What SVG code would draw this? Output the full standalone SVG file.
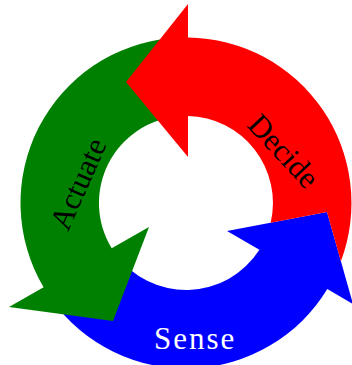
<svg xmlns="http://www.w3.org/2000/svg" width="352" height="365" viewBox="0 0 352 365">
  <style>
    .lbl { font-family: "Liberation Serif", "Times New Roman", serif; font-size: 31px; }
    .dark { fill: #000000; }
    .light { fill: #FFFFFF; }
  </style>
  <rect x="0" y="0" width="352" height="365" fill="#FFFFFF"/>
  <g id="connectors">
    <g id="sense">
      <path fill="#0000FF" d="M 52.1,300.3 A 165.5 165.5 0 0 0 327.3,289.1 L 353,304 L 327,212 L 227,231 L 259.4,249.8 A 87 87 0 0 1 115.6,254.1 Z"/>
      <text class="lbl light" x="154" y="349" letter-spacing="2">Sense</text>
    </g>
    <g id="actuate">
      <path fill="#008000" d="M 171.6,38.1 A 165.5 165.5 0 0 0 43.6,287.3 L 9,307 L 113,321 L 149,227 L 111.7,248.3 A 87 87 0 0 1 178.4,116.3 Z"/>
      <text class="lbl dark" transform="translate(68,232) rotate(-66)">Actuate</text>
    </g>
    <g id="decide">
      <path fill="#FF0000" d="M 340.9,261.2 A 165.5 165.5 0 0 0 188,37.5 L 188,4 L 126,82 L 188,157 L 188,116 A 87 87 0 0 1 270.7,222.7 L 327,212 Z"/>
      <text class="lbl dark" transform="translate(246,126) rotate(47)">Decide</text>
    </g>
  </g>
</svg>
